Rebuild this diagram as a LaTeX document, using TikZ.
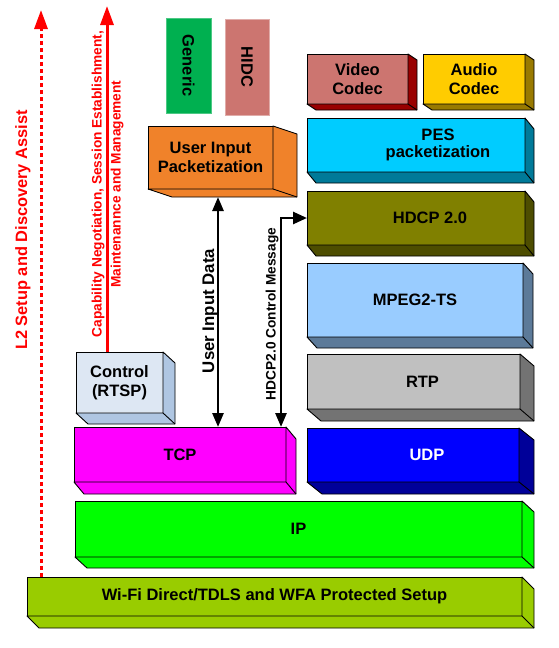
\documentclass[tikz,border=0pt]{standalone}
\usepackage{fontspec}
\setmainfont{Liberation Sans}
\usetikzlibrary{arrows.meta,calc}
\definecolor{vidF}{HTML}{CC7570}\definecolor{vidS}{HTML}{990000}
\definecolor{audF}{HTML}{FFCC00}\definecolor{audS}{HTML}{997A00}
\definecolor{pesF}{HTML}{00CCFF}\definecolor{pesS}{HTML}{007A99}
\definecolor{hdcF}{HTML}{808000}\definecolor{hdcS}{HTML}{4D4D00}
\definecolor{mpgF}{HTML}{99CCFF}\definecolor{mpgS}{HTML}{5C7A99}
\definecolor{rtpF}{HTML}{C0C0C0}\definecolor{rtpS}{HTML}{737373}
\definecolor{udpF}{HTML}{0000FF}\definecolor{udpS}{HTML}{000099}
\definecolor{tcpF}{HTML}{FF00FF}
\definecolor{ipF}{HTML}{00FF00}
\definecolor{wifF}{HTML}{99CC00}
\definecolor{ctlF}{HTML}{DDE7F3}\definecolor{ctlS}{HTML}{AFC6E2}
\definecolor{uipF}{HTML}{F0822A}
\definecolor{genF}{HTML}{00B050}
\definecolor{redA}{HTML}{FF0000}
\newcommand\boxfont{\bfseries\fontsize{16.5}{19.5}\selectfont}
\newcommand\extrude[4]{%
  \filldraw[fill=#4, draw=black, line width=0.9pt, line join=round]
    (#1.north east) -- ($(#1.north east)+(#2,#3)$) -- ($(#1.south east)+(#2,#3)$)
    -- ($(#1.south west)+(#2,#3)$) -- (#1.south west) -- (#1.south east) -- cycle;
  \draw[line width=0.9pt] (#1.south east) -- ($(#1.south east)+(#2,#3)$);}
\tikzset{
  layer/.style={draw=black, line width=0.9pt, inner sep=0pt, outer sep=0pt,
    anchor=north west, font=\boxfont, align=center, text=black},
  flatbox/.style={line width=0.8pt, inner sep=0pt, outer sep=0pt, rotate=-90,
    font=\boxfont, text=black},
  biarrow/.style={line width=2.6pt, {Triangle[length=14pt,width=11pt]}-{Triangle[length=14pt,width=11pt]}},
  hdarrow/.style={line width=2.6pt, {Triangle[length=14pt,width=11pt]}-{Triangle[length=14pt,width=12pt]}},
  redline/.style={redA, line width=3pt, -{Triangle[length=19pt,width=13pt]}},
  redlabel/.style={text=redA, rotate=90, align=center, inner sep=0pt},
  vlabel/.style={text=black, rotate=90, inner sep=0pt},
}
\begin{document}
\begin{tikzpicture}[x=1pt,y=-1pt]
\useasboundingbox (0,0) rectangle (559,648);

% top application boxes
\node[flatbox, fill=genF, draw=genF!70!white, minimum width=95, minimum height=45] (generic) at (188.5,65.5) {Generic};
\node[flatbox, fill=vidF, draw=vidF!60!white, minimum width=96, minimum height=44] (hidc) at (247,67) {HIDC};

% layer boxes
\node[layer, fill=vidF, minimum width=101, minimum height=50] (vcodec) at (307,54) {Video\\Codec};
\extrude{vcodec}{9}{6}{vidS}
\node[layer, fill=audF, minimum width=102, minimum height=50] (acodec) at (423,54) {Audio\\Codec};
\extrude{acodec}{9}{6}{audS}
\node[layer, fill=pesF, minimum width=218, minimum height=54] (pes) at (307,118) {\hspace*{44pt}\shortstack{PES\\[1pt]packetization}};
\extrude{pes}{9}{11}{pesS}
\node[layer, fill=hdcF, minimum width=218, minimum height=54] (hdcp) at (307,191) {\hspace*{28pt}HDCP 2.0};
\extrude{hdcp}{9}{11}{hdcS}
\node[layer, fill=mpgF, minimum width=216, minimum height=74] (mpeg) at (307,263) {MPEG2-TS};
\extrude{mpeg}{10}{11}{mpgS}
\node[layer, fill=rtpF, minimum width=213, minimum height=55] (rtp) at (307,354) {\hspace*{18pt}RTP};
\extrude{rtp}{14}{12}{rtpS}
\node[layer, fill=udpF, text=white, minimum width=212, minimum height=54] (udp) at (307,428) {\hspace*{28pt}UDP};
\extrude{udp}{15}{12}{udpS}
\node[layer, fill=tcpF, minimum width=212, minimum height=55] (tcp) at (74,427) {TCP};
\extrude{tcp}{10}{12}{tcpF}
\node[layer, fill=ipF, minimum width=447, minimum height=56] (ip) at (75,501) {IP};
\extrude{ip}{12}{11}{ipF}
\node[layer, fill=wifF, minimum width=495, minimum height=39] (wifi) at (27,577) {Wi-Fi Direct/TDLS and WFA Protected Setup};
\extrude{wifi}{12}{12}{wifF}
\node[layer, fill=ctlF, minimum width=87, minimum height=61] (ctrl) at (76,352) {Control\\(RTSP)};
\extrude{ctrl}{12}{11}{ctlS}
\node[layer, fill=uipF, minimum width=125, minimum height=63] (uip) at (148,126) {User Input\\Packetization};
\extrude{uip}{24}{8}{uipF}

% red arrows
\coordinate (l2top) at (41,10);
\coordinate (captop) at (107,6);
\draw[redline, dash pattern=on 4pt off 3pt] (wifi.north -| l2top) -- (l2top);
\draw[redline] (ctrl.north -| captop) -- (captop);
\node[redlabel, font=\bfseries\fontsize{16.4}{19}\selectfont] (l2lab) at (23,230) {L2 Setup and Discovery Assist};
\node[redlabel, font=\bfseries\fontsize{13.7}{19}\selectfont] (caplab) at (107.5,184) {Capability Negotiation, Session Establishment,\\Maintenannce and Management};

% black arrows
\draw[biarrow] ($(uip.south)+(7.5,8)$) -- ($(tcp.north)+(38,0)$);
\draw[hdarrow] ($(tcp.north east)+(-5,0)$) |- (hdcp.west);
\node[vlabel, font=\bfseries\fontsize{16.8}{19}\selectfont] (uidlab) at (210,311) {User Input Data};
\node[vlabel, font=\bfseries\fontsize{13.7}{16}\selectfont] (hdlab) at (272,314) {HDCP2.0 Control Message};
\end{tikzpicture}
\end{document}
